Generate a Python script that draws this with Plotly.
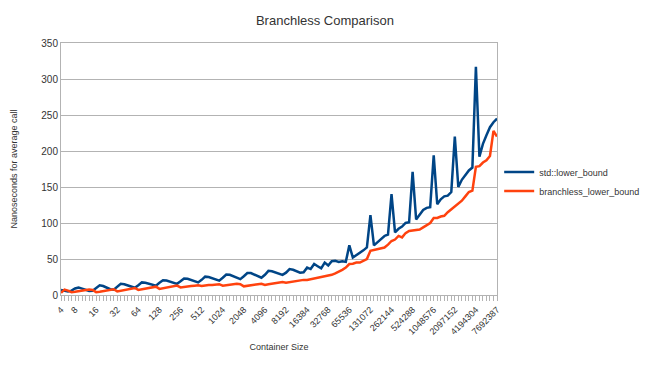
import plotly.graph_objects as go

sizes = [4, 5, 6, 7, 8,
         9, 10, 11, 13, 14, 16,
         18, 20, 23, 25, 29, 32,
         36, 40, 45, 51, 57, 64,
         72, 81, 91, 102, 114, 128,
         144, 161, 181, 203, 228, 256,
         287, 323, 362, 406, 456, 512,
         575, 645, 724, 813, 912, 1024,
         1149, 1290, 1448, 1625, 1825, 2048,
         2299, 2580, 2896, 3251, 3649, 4096,
         4598, 5161, 5793, 6502, 7298, 8192,
         9195, 10321, 11585, 13004, 14596, 16384,
         18390, 20643, 23170, 26008, 29193, 32768,
         36781, 41285, 46341, 52015, 58386, 65536,
         73562, 82570, 92682, 104030, 116772, 131072,
         147124, 165140, 185364, 208061, 233544, 262144,
         294247, 330280, 370728, 416122, 467088, 524288,
         588495, 660560, 741455, 832243, 934176, 1048576,
         1176989, 1321120, 1482910, 1664487, 1868352, 2097152,
         2353978, 2642240, 2965821, 3328973, 3736704, 4194304,
         4707956, 5284480, 5931642, 6657946, 7473408, 7692387]

labeled_sizes = [4, 8, 16, 32, 64, 128, 256, 512, 1024, 2048, 4096, 8192,
                 16384, 32768, 65536, 131072, 262144, 524288, 1048576,
                 2097152, 4194304, 7692387]

std_lower_bound = [7, 6.5, 5, 6, 9,
                   10.5, 9, 7, 5.5, 6, 10,
                   13.5, 12.5, 10.5, 8, 7.5, 12,
                   15.5, 15, 13, 11, 10, 13.5,
                   17.5, 17, 15.5, 13.5, 13, 17,
                   20.5, 20, 18.5, 16, 15.5, 19,
                   23, 22.5, 21, 18.5, 17.5, 21,
                   25.5, 25, 23.5, 21, 20, 24,
                   28.5, 28, 26, 23, 22, 26,
                   30.5, 30.5, 28.5, 25.5, 24, 28,
                   33.5, 33, 31, 29, 28, 31,
                   36, 35, 33, 31, 31.5, 38,
                   36, 43, 40, 37, 45, 41,
                   47, 47.5, 46, 47, 46, 69,
                   52, 55, 58, 62, 66, 111,
                   69, 73, 78, 82, 84, 140,
                   87, 92, 95, 100, 101, 171,
                   105, 112, 118, 121, 122, 194,
                   126, 133, 137, 138, 143, 220,
                   150, 160, 167, 173, 177, 317,
                   192, 210, 222, 233, 240, 245]

branchless_lower_bound = [3, 7.5, 6, 4, 4.5,
                          5.5, 6, 6.5, 7.5, 7, 4,
                          4.5, 5.5, 6.5, 7.5, 8, 5,
                          6, 7, 8, 9, 9.7, 7,
                          8, 9, 10, 11, 11.6, 8.5,
                          9.5, 10.5, 11.5, 12.5, 13, 10.6,
                          11.5, 12, 12.5, 13, 13.5, 12.5,
                          13.5, 14, 14, 14.5, 15, 13,
                          14, 15, 15, 15.5, 15, 12,
                          13, 14, 14.5, 15, 15.5, 14,
                          15, 16, 16.5, 17, 18, 17,
                          18, 19, 20, 20.5, 21, 21,
                          22, 23, 23.5, 24.5, 26, 26.5,
                          28, 30, 32, 35, 38, 43,
                          43.5, 45, 45, 48, 50, 61.5,
                          62.5, 63, 64, 66, 70, 75,
                          77, 82, 80, 86, 89, 90,
                          90, 91, 94, 97, 100, 107,
                          107, 109, 110, 115, 119, 122,
                          126, 131, 137, 143, 145, 178,
                          179, 184, 187, 193, 228, 220]

assert len(sizes) == len(std_lower_bound) == len(branchless_lower_bound) == 125

cats = [str(s) for s in sizes]
ticktext = [str(s) if s in labeled_sizes else "" for s in sizes]

FONT = "Liberation Sans, Arial, sans-serif"

fig = go.Figure()
fig.add_trace(go.Scatter(x=cats, y=std_lower_bound, mode="lines",
                         name="std::lower_bound",
                         line=dict(color="#004586", width=2.5)))
fig.add_trace(go.Scatter(x=cats, y=branchless_lower_bound, mode="lines",
                         name="branchless_lower_bound",
                         line=dict(color="#ff420e", width=2.5)))

fig.update_layout(
    width=641, height=357,
    paper_bgcolor="white", plot_bgcolor="white",
    margin=dict(l=53, r=152, t=35, b=70, autoexpand=False),
    font=dict(family=FONT, size=10, color="#333333"),
    title=dict(text="Branchless Comparison", x=0.4945, xanchor="center",
               y=0.966, yanchor="middle", yref="container",
               font=dict(family=FONT, size=13, color="#333333")),
    legend=dict(x=1.005, xanchor="left", y=0.45, yanchor="middle",
                font=dict(family=FONT, size=9, color="#333333"),
                bgcolor="rgba(0,0,0,0)", itemwidth=30, tracegroupgap=0),
    showlegend=True,
)
fig.update_xaxes(
    type="category", categoryorder="array", categoryarray=cats,
    range=[0, len(cats) - 1], automargin=False,
    tickmode="array", tickvals=cats, ticktext=ticktext,
    tickangle=-45, tickfont=dict(size=9, color="#333333"),
    ticks="outside", ticklen=5, tickcolor="#b3b3b3", tickwidth=1,
    showgrid=False, showline=True, linecolor="#b3b3b3", linewidth=1,
    mirror=True, zeroline=False,
    title=dict(text="Container Size", font=dict(size=9, color="#333333"),
               standoff=8),
)
fig.update_yaxes(
    range=[0, 350], dtick=50, tick0=0, automargin=False,
    showgrid=True, gridcolor="#b3b3b3", gridwidth=1,
    showline=True, linecolor="#b3b3b3", linewidth=1, mirror=True,
    zeroline=False, ticks="", tickfont=dict(size=10, color="#333333"),
    title=dict(text="Nanoseconds for average call",
               font=dict(size=9, color="#333333"), standoff=22),
)

fig.write_html("out.html")
